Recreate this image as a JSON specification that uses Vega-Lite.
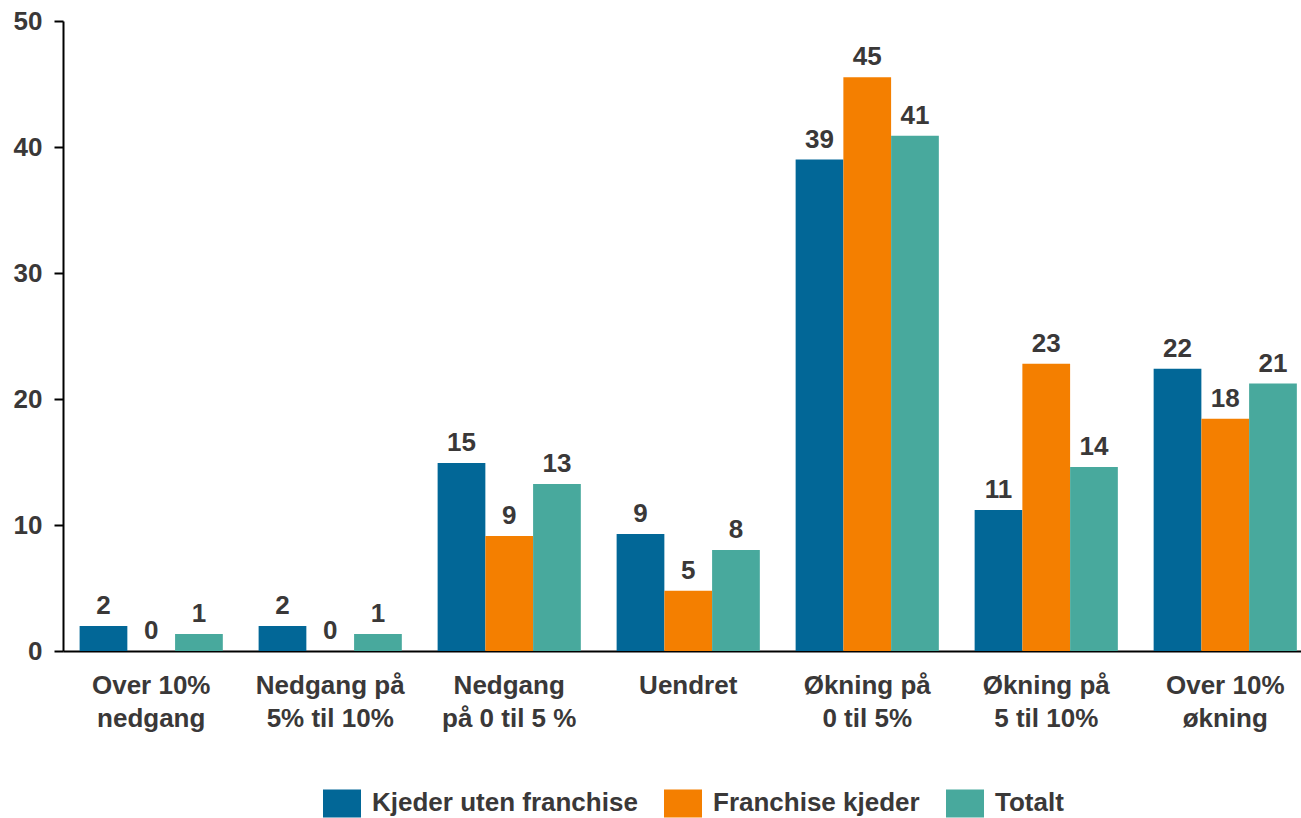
{
  "$schema": "https://vega.github.io/schema/vega-lite/v6.json",
  "autosize": {"type": "none"},
  "width": 1238,
  "height": 630,
  "padding": {"left": 63, "top": 21, "right": 0, "bottom": 167},
  "background": "#ffffff",
  "config": {
    "view": {"stroke": null},
    "font": "Liberation Sans",
    "axis": {"labelFont": "Liberation Sans", "labelFontWeight": "bold", "labelFontSize": 26, "labelColor": "#3a3838", "grid": false, "title": null},
    "legend": {"labelFont": "Liberation Sans", "labelFontWeight": "bold", "labelFontSize": 26, "labelColor": "#3a3838"}
  },
  "data": {
    "values": [
      {"kategori": "Over 10%\nnedgang", "serie": "Kjeder uten franchise", "verdi": 1.98, "etikett": "2"},
      {"kategori": "Over 10%\nnedgang", "serie": "Franchise kjeder", "verdi": 0, "etikett": "0"},
      {"kategori": "Over 10%\nnedgang", "serie": "Totalt", "verdi": 1.35, "etikett": "1"},
      {"kategori": "Nedgang på\n5% til 10%", "serie": "Kjeder uten franchise", "verdi": 1.98, "etikett": "2"},
      {"kategori": "Nedgang på\n5% til 10%", "serie": "Franchise kjeder", "verdi": 0, "etikett": "0"},
      {"kategori": "Nedgang på\n5% til 10%", "serie": "Totalt", "verdi": 1.35, "etikett": "1"},
      {"kategori": "Nedgang\npå 0 til 5 %", "serie": "Kjeder uten franchise", "verdi": 14.93, "etikett": "15"},
      {"kategori": "Nedgang\npå 0 til 5 %", "serie": "Franchise kjeder", "verdi": 9.13, "etikett": "9"},
      {"kategori": "Nedgang\npå 0 til 5 %", "serie": "Totalt", "verdi": 13.26, "etikett": "13"},
      {"kategori": "Uendret", "serie": "Kjeder uten franchise", "verdi": 9.29, "etikett": "9"},
      {"kategori": "Uendret", "serie": "Franchise kjeder", "verdi": 4.79, "etikett": "5"},
      {"kategori": "Uendret", "serie": "Totalt", "verdi": 8.02, "etikett": "8"},
      {"kategori": "Økning på\n0 til 5%", "serie": "Kjeder uten franchise", "verdi": 39.0, "etikett": "39"},
      {"kategori": "Økning på\n0 til 5%", "serie": "Franchise kjeder", "verdi": 45.54, "etikett": "45"},
      {"kategori": "Økning på\n0 til 5%", "serie": "Totalt", "verdi": 40.9, "etikett": "41"},
      {"kategori": "Økning på\n5 til 10%", "serie": "Kjeder uten franchise", "verdi": 11.2, "etikett": "11"},
      {"kategori": "Økning på\n5 til 10%", "serie": "Franchise kjeder", "verdi": 22.8, "etikett": "23"},
      {"kategori": "Økning på\n5 til 10%", "serie": "Totalt", "verdi": 14.6, "etikett": "14"},
      {"kategori": "Over 10%\nøkning", "serie": "Kjeder uten franchise", "verdi": 22.4, "etikett": "22"},
      {"kategori": "Over 10%\nøkning", "serie": "Franchise kjeder", "verdi": 18.43, "etikett": "18"},
      {"kategori": "Over 10%\nøkning", "serie": "Totalt", "verdi": 21.23, "etikett": "21"}
    ]
  },
  "encoding": {
    "x": {
      "field": "kategori", "type": "nominal", "sort": null,
      "scale": {"paddingInner": 0.2, "paddingOuter": 0.058, "align": 0.8},
      "axis": {"labelAngle": 0, "ticks": false, "tickSize": 0, "labelPadding": 21, "labelLineHeight": 33, "labelBaseline": "top",
               "labelExpr": "split(datum.label, '\\n')", "domainColor": "#000000", "domainWidth": 2, "labelLimit": 0}
    },
    "xOffset": {"field": "serie", "type": "nominal", "sort": ["Kjeder uten franchise", "Franchise kjeder", "Totalt"], "scale": {"paddingInner": 0, "paddingOuter": 0}},
    "y": {
      "field": "verdi", "type": "quantitative",
      "scale": {"domain": [0, 50], "nice": false},
      "axis": {"values": [0, 10, 20, 30, 40, 50], "domainColor": "#000000", "domainWidth": 2, "tickColor": "#000000", "tickWidth": 2, "tickSize": 9, "labelPadding": 12}
    }
  },
  "layer": [
    {
      "mark": {"type": "bar"},
      "encoding": {
        "color": {
          "field": "serie", "type": "nominal",
          "scale": {"domain": ["Kjeder uten franchise", "Franchise kjeder", "Totalt"], "range": ["#026797", "#f47f00", "#48a99d"]},
          "legend": {
            "title": null, "orient": "none", "direction": "horizontal", "columns": 3,
            "legendX": 260, "legendY": 763, "padding": 0,
            "symbolType": "M-1,-0.737H1V0.737H-1Z", "symbolSize": 1444, "symbolStrokeWidth": 0,
            "labelOffset": 11, "columnPadding": 26, "labelLimit": 0
          }
        }
      }
    },
    {
      "mark": {"type": "text", "font": "Liberation Sans", "fontWeight": "bold", "fontSize": 26, "color": "#3a3838", "baseline": "alphabetic", "dy": -12},
      "encoding": {"text": {"field": "etikett"}}
    }
  ]
}
